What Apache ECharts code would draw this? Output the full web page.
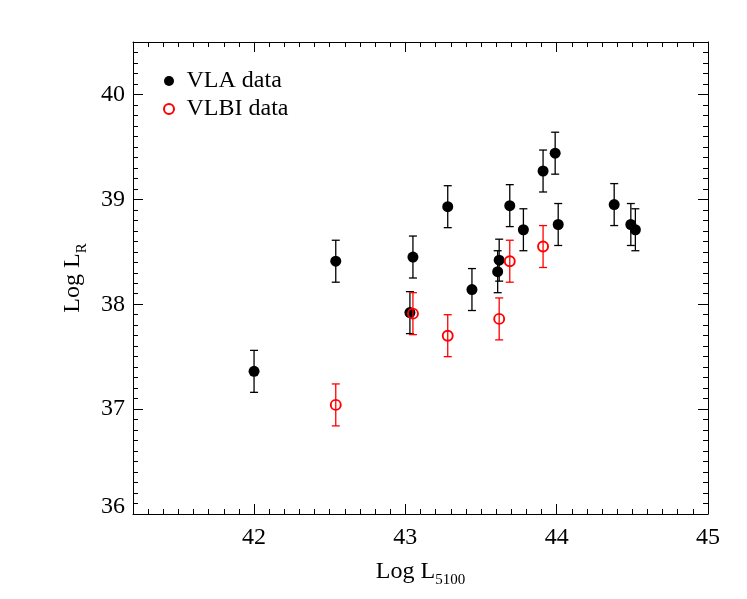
<!DOCTYPE html>
<html>
<head>
<meta charset="utf-8">
<script src="https://cdn.jsdelivr.net/npm/echarts@6/dist/echarts.min.js"></script>
<style>
html,body{margin:0;padding:0;background:#fff;}
#chart{width:747px;height:599px;}
</style>
</head>
<body>
<div id="chart"></div>
<script>
// ---- data ----
const vlaX   = [42.00, 42.54, 43.03, 43.05, 43.28, 43.44, 43.61, 43.62, 43.69, 43.78, 43.91, 43.99, 44.01, 44.38, 44.49, 44.52];
const vlaY   = [37.36, 38.41, 37.92, 38.45, 38.93, 38.14, 38.31, 38.42, 38.94, 38.71, 39.27, 39.44, 38.76, 38.95, 38.76, 38.71];
const vlaErr = [0.2, 0.2, 0.2, 0.2, 0.2, 0.2, 0.2, 0.2, 0.2, 0.2, 0.2, 0.2, 0.2, 0.2, 0.2, 0.2];

const vlbiX   = [42.54, 43.05, 43.28, 43.62, 43.69, 43.91];
const vlbiY   = [37.04, 37.91, 37.70, 37.86, 38.41, 38.55];
const vlbiErr = [0.2, 0.2, 0.2, 0.2, 0.2, 0.2];

const xTickLabels = [42, 43, 44, 45];
const yTickLabels = [36, 37, 38, 39, 40];
const xRange = [41.2, 45];
const yRange = [36, 40.5];

// ---- build ----
const FONT = "'Liberation Serif','DejaVu Serif',serif";
const pts = (xs, ys) => xs.map((x, i) => [x, ys[i]]);
const errs = (xs, ys, es) => xs.map((x, i) => [x, ys[i] - es[i], ys[i] + es[i]]);

function errRender(color) {
  return function (params, api) {
    const x = api.value(0);
    const pLo = api.coord([x, api.value(1)]);
    const pHi = api.coord([x, api.value(2)]);
    const w = 4;
    const style = { stroke: color, lineWidth: 1.3 };
    return {
      type: 'group',
      children: [
        { type: 'line', shape: { x1: pLo[0], y1: pLo[1], x2: pHi[0], y2: pHi[1] }, style },
        { type: 'line', shape: { x1: pLo[0] - w, y1: pLo[1], x2: pLo[0] + w, y2: pLo[1] }, style },
        { type: 'line', shape: { x1: pHi[0] - w, y1: pHi[1], x2: pHi[0] + w, y2: pHi[1] }, style }
      ]
    };
  };
}

const nameRich = {
  s: { fontSize: 15, fontFamily: FONT, color: '#000', lineHeight: 15, padding: [18, 0, 0, 0] }
};

function majorAxis(pos, range, ticks, withLabels, name, isX) {
  const ax = {
    type: 'value', position: pos, min: range[0], max: range[1],
    splitLine: { show: false },
    axisLine: { show: true, onZero: false, lineStyle: { color: '#000', width: 1 } },
    axisTick: { show: true, inside: true, length: 10, customValues: ticks, lineStyle: { color: '#000', width: 1 } },
    axisLabel: withLabels
      ? { show: true, customValues: ticks, fontSize: 24, fontFamily: FONT, color: '#000', margin: isX ? 12 : 8 }
      : { show: false }
  };
  if (withLabels && !isX) {
    ax.axisLabel.formatter = (v) => (v === range[0] ? '{lo|' + v + '}' : String(v));
    ax.axisLabel.rich = { lo: { fontSize: 24, fontFamily: FONT, color: '#000', padding: [0, 0, 14, 0] } };
  }
  if (name) {
    ax.name = name;
    ax.nameLocation = 'middle';
    ax.nameGap = isX ? 36 : 48;
    ax.nameTextStyle = { fontSize: 24, fontFamily: FONT, color: '#000', lineHeight: 24, rich: nameRich };
  }
  return ax;
}
function minorAxis(pos, range) {
  return {
    type: 'value', position: pos, min: range[0], max: range[1], interval: 0.1,
    splitLine: { show: false },
    axisLine: { show: false, onZero: false },
    axisTick: { show: true, inside: true, length: 5, lineStyle: { color: '#000', width: 1 } },
    axisLabel: { show: false }
  };
}

const option = {
  backgroundColor: '#fff',
  animation: false,
  grid: { left: 133, top: 42, width: 575, height: 472, containLabel: false },
  legend: {
    orient: 'vertical', left: 163, top: 69, padding: 0,
    itemWidth: 25, itemHeight: 10, itemGap: 4,
    textStyle: { fontSize: 24, fontFamily: FONT, color: '#000', lineHeight: 24 },
    data: ['VLA data', 'VLBI data']
  },
  xAxis: [
    majorAxis('bottom', xRange, xTickLabels, true, 'Log L{s|5100}', true),
    minorAxis('bottom', xRange),
    majorAxis('top', xRange, xTickLabels, false, null, true),
    minorAxis('top', xRange)
  ],
  yAxis: [
    majorAxis('left', yRange, yTickLabels, true, 'Log L{s|R}', false),
    minorAxis('left', yRange),
    majorAxis('right', yRange, yTickLabels, false, null, false),
    minorAxis('right', yRange)
  ],
  series: [
    {
      type: 'custom', name: 'vla-err', renderItem: errRender('#000'),
      data: errs(vlaX, vlaY, vlaErr), encode: { x: 0, y: [1, 2] }, z: 2
    },
    {
      type: 'scatter', name: 'VLA data', data: pts(vlaX, vlaY),
      symbol: 'circle', symbolSize: 11,
      itemStyle: { color: '#000', opacity: 1 }, z: 3
    },
    {
      type: 'custom', name: 'vlbi-err', renderItem: errRender('#ff0000'),
      data: errs(vlbiX, vlbiY, vlbiErr), encode: { x: 0, y: [1, 2] }, z: 4
    },
    {
      type: 'scatter', name: 'VLBI data', data: pts(vlbiX, vlbiY),
      symbol: 'circle', symbolSize: 10,
      itemStyle: { color: 'rgba(255,255,255,0)', borderColor: '#ff0000', borderWidth: 1.9, opacity: 1 }, z: 5
    }
  ]
};

const chart = echarts.init(document.getElementById('chart'), null, { renderer: 'canvas' });
chart.setOption(option);
</script>
</body>
</html>
